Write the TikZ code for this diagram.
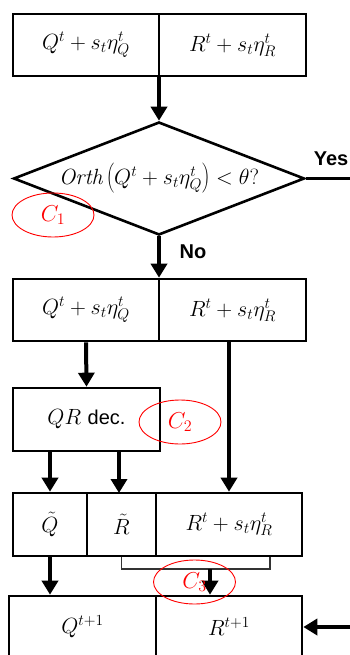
\RequirePackage{fix-cm}
\documentclass[tikz,border=0pt]{standalone}
\usepackage{fontspec}
\setsansfont{Liberation Sans}
\usetikzlibrary{shapes.geometric,arrows.meta}

\begin{document}
\begin{tikzpicture}[x=1pt,y=-1pt,
  mfont/.style={font=\fontsize{22}{26}\selectfont},
  cell/.style={draw,line width=2.6pt,rectangle,inner sep=0pt,minimum height=62,mfont},
  decision/.style={draw,line width=2.6pt,diamond,inner sep=0pt,aspect=2.6,
    minimum width=291,minimum height=113,mfont},
  arr/.style={line width=4pt,-{Triangle[length=14pt,width=16pt]}},
  bracket/.style={line width=1.4pt,draw=black!80},
  ringmark/.style={draw=red,line width=0.9pt,ellipse,inner sep=0pt,minimum width=82,
    minimum height=44,text=red,font=\fontsize{23}{27}\selectfont},
  answer/.style={font=\sffamily\bfseries\fontsize{20}{24}\selectfont}]
\useasboundingbox (0,0) rectangle (350,655);

% first pair of blocks
\node[cell,minimum width=146] (q1) at (86,45) {$Q^t+s_t\eta_Q^t$};
\node[cell,minimum width=147] (r1) at (232.5,45) {$R^t+s_t\eta_R^t$};

% orthogonality test
\node[decision] (dia) at (159,178.5) {$\mathit{Orth}\left(Q^t+s_t\eta_Q^t\right)<\theta?$};

% second pair of blocks
\node[cell,minimum width=146] (q2) at (86,310) {$Q^t+s_t\eta_Q^t$};
\node[cell,minimum width=147] (r2) at (232.5,310) {$R^t+s_t\eta_R^t$};

% QR decomposition
\node[cell,minimum width=147,minimum height=63] (qr) at (86.5,419.5) {$QR$ {\sffamily\fontsize{20}{24}\selectfont dec.}};

% factors
\node[cell,minimum width=74,minimum height=63] (qt) at (50,524.5) {$\tilde{Q}$};
\node[cell,minimum width=69,minimum height=63] (rt) at (121.5,524.5) {$\tilde{R}$};
\node[cell,minimum width=146,minimum height=63] (r3) at (229,524.5) {$R^t+s_t\eta_R^t$};

% updated factors
\node[cell,minimum width=147] (q4) at (82.5,627) {$Q^{t+1}$};
\node[cell,minimum width=146] (r4) at (229,627) {$R^{t+1}$};

% connectors
\draw[arr] (dia.north |- q1.south) -- (dia.north);
\draw[arr] (dia.south) -- (dia.south |- q2.north);
\coordinate (yesend) at (350,178.5);
\draw[line width=2.6pt] (dia.east) -- (yesend);
\node[answer] (yes) at (331,159) {Yes};
\node[answer] (no) at (193,252) {No};

\draw[arr] (q2.south) -- (qr.north);
\draw[arr] (r3.north |- r2.south) -- (r3.north);
\draw[arr] (qt.north |- qr.south) -- (qt.north);
\coordinate (rin) at (119,493);
\draw[arr] (rin |- qr.south) -- (rin);
\draw[arr] (qt.south) -- (qt.south |- q4.north);

% merge bracket
\coordinate (br) at (270,569);
\draw[bracket] (rt.south) |- (br) -- (br |- r3.south);
\coordinate (bm) at (210,569);
\draw[arr] (bm) -- (bm |- r4.north);

% incoming arrow from the right
\coordinate (fb) at (350,627);
\draw[arr] (fb) -- (fb -| r4.east);

% highlighted stages
\node[ringmark] (c1) at (53,215) {$C_1$};
\node[ringmark] (c2) at (180,422) {$C_2$};
\node[ringmark] (c3) at (194.5,582) {$C_3$};
\end{tikzpicture}
\end{document}
